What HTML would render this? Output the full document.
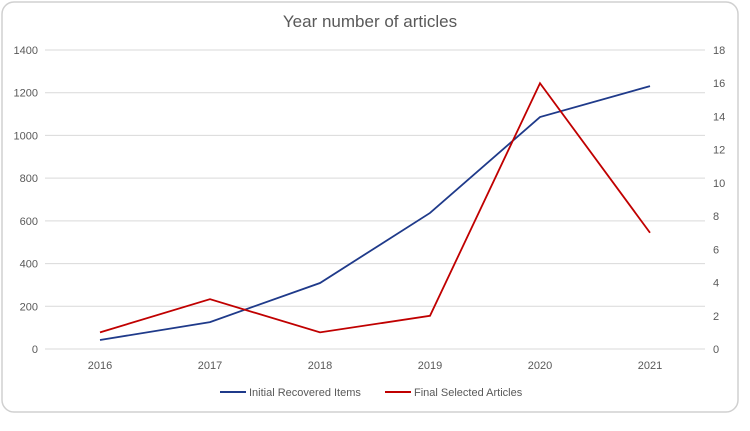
<!DOCTYPE html>
<html><head><meta charset="utf-8"><style>
body{margin:0;width:750px;height:426px;background:#fff;font-family:"Liberation Sans",sans-serif;overflow:hidden}
</style></head><body>
<svg width="750" height="426">
<rect x="2" y="2" width="736" height="410" rx="12" fill="#fff" stroke="#d0d0d0" stroke-width="1.5"/>
<text x="370" y="27" text-anchor="middle" font-size="17" fill="#595959">Year number of articles</text>
<g id="grid"></g><g id="axes"></g><g id="series"></g>
<g>
<line x1="220" y1="392" x2="246" y2="392" stroke="#1f3a8a" stroke-width="2"/>
<text x="249" y="396" font-size="11" fill="#595959">Initial Recovered Items</text>
<line x1="385" y1="392" x2="411" y2="392" stroke="#c00000" stroke-width="2"/>
<text x="414" y="396" font-size="11" fill="#595959">Final Selected Articles</text>
</g>
</svg>
<script>
const categories=["2016","2017","2018","2019","2020","2021"];
const initialItems=[42,126,309,637,1086,1231];
const finalArticles=[1,3,1,2,16,7];
const leftTicks=[0,200,400,600,800,1000,1200,1400];
const rightTicks=[0,2,4,6,8,10,12,14,16,18];
const NS="http://www.w3.org/2000/svg";
const x0=45,x1=705,yb=349,yt=50;
const xs=i=>x0+(x1-x0)/categories.length*(i+0.5);
const yl=v=>yb-(v/1400)*(yb-yt);
const yr=v=>yb-(v/18)*(yb-yt);
function mk(tag,attrs,parent){const e=document.createElementNS(NS,tag);for(const k in attrs)e.setAttribute(k,attrs[k]);document.getElementById(parent).appendChild(e);return e;}
leftTicks.forEach(v=>{
 const l=mk('line',{x1:x0,x2:x1,y1:yl(v),y2:yl(v),stroke:'#d9d9d9','stroke-width':1},'grid');
 
 
 const t=mk('text',{x:38,y:yl(v)+4,'text-anchor':'end','font-size':11,fill:'#595959'},'axes');
 t.textContent=v;
 
 
});
rightTicks.forEach(v=>{
 const t=mk('text',{x:713,y:yr(v)+4,'font-size':11,fill:'#595959'},'axes');
 t.textContent=v;
 
 
});
categories.forEach((c,i)=>{
 const t=mk('text',{x:xs(i),y:369,'text-anchor':'middle','font-size':11,fill:'#595959'},'axes');
 t.textContent=c;
 
 
});
const p1=mk('polyline',{points:initialItems.map((v,i)=>xs(i)+','+yl(v)).join(' '),fill:'none',stroke:'#1f3a8a','stroke-width':1.8},'series');


const p2=mk('polyline',{points:finalArticles.map((v,i)=>xs(i)+','+yr(v)).join(' '),fill:'none',stroke:'#c00000','stroke-width':1.8},'series');


</script>
</body></html>
